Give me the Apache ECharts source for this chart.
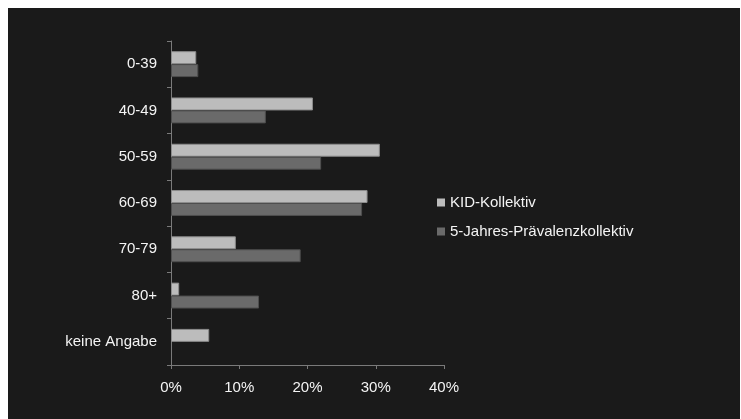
<!DOCTYPE html>
<html>
<head>
<meta charset="utf-8">
<script src="https://cdn.jsdelivr.net/npm/echarts@6/dist/echarts.min.js"></script>
<style>
html,body{margin:0;padding:0;background:#ffffff;}
#chart{position:absolute;left:8px;top:8px;width:732px;height:411px;background:#1a1a1a;}
</style>
</head>
<body>
<div id="chart"></div>
<script>
const categories = ['0-39', '40-49', '50-59', '60-69', '70-79', '80+', 'keine Angabe'];
const kidValues = [3.7, 20.8, 30.6, 28.8, 9.5, 1.2, 5.6];
const praevValues = [4.0, 13.9, 22.0, 28.0, 19.0, 12.9, '-'];
const seriesNames = ['KID-Kollektiv', '5-Jahres-Prävalenzkollektiv'];
const xTicks = { min: 0, max: 40, interval: 10 };

const chart = echarts.init(document.getElementById('chart'), null, { renderer: 'canvas' });
const font = 'Liberation Sans, Arial, sans-serif';
chart.setOption({
  backgroundColor: '#1a1a1a',
  animation: false,
  textStyle: { fontFamily: font },
  grid: { left: 163, top: 33, width: 273, height: 324, containLabel: false },
  legend: {
    orient: 'vertical',
    left: 429,
    top: 187,
    padding: 0,
    itemWidth: 8,
    itemHeight: 8,
    itemGap: 14,
    icon: 'rect',
    data: seriesNames,
    itemStyle: { borderWidth: 0 },
    textStyle: { color: '#f4f4f4', fontSize: 15, fontFamily: font }
  },
  xAxis: {
    type: 'value',
    min: xTicks.min,
    max: xTicks.max,
    interval: xTicks.interval,
    splitLine: { show: false },
    axisLine: { show: true, lineStyle: { color: '#7a7a7a', width: 1 } },
    axisTick: { show: true, length: 4, lineStyle: { color: '#7a7a7a' } },
    axisLabel: { color: '#f4f4f4', fontSize: 15, fontFamily: font, margin: 15, formatter: '{value}%' }
  },
  yAxis: {
    type: 'category',
    data: categories,
    inverse: true,
    axisLine: { show: true, lineStyle: { color: '#7a7a7a', width: 1 } },
    axisTick: { show: true, length: 4, lineStyle: { color: '#7a7a7a' } },
    axisLabel: { color: '#f4f4f4', fontSize: 15, fontFamily: font, margin: 14 }
  },
  series: [
    {
      name: seriesNames[0],
      type: 'bar',
      data: kidValues,
      barGap: '0%',
      barCategoryGap: '44%',
      itemStyle: { color: '#bcbcbc', borderColor: '#8c8c8c', borderWidth: 1 }
    },
    {
      name: seriesNames[1],
      type: 'bar',
      data: praevValues,
      barGap: '0%',
      barCategoryGap: '44%',
      itemStyle: { color: '#6a6a6a', borderColor: '#4e4e4e', borderWidth: 1 }
    }
  ]
});
</script>
</body>
</html>
